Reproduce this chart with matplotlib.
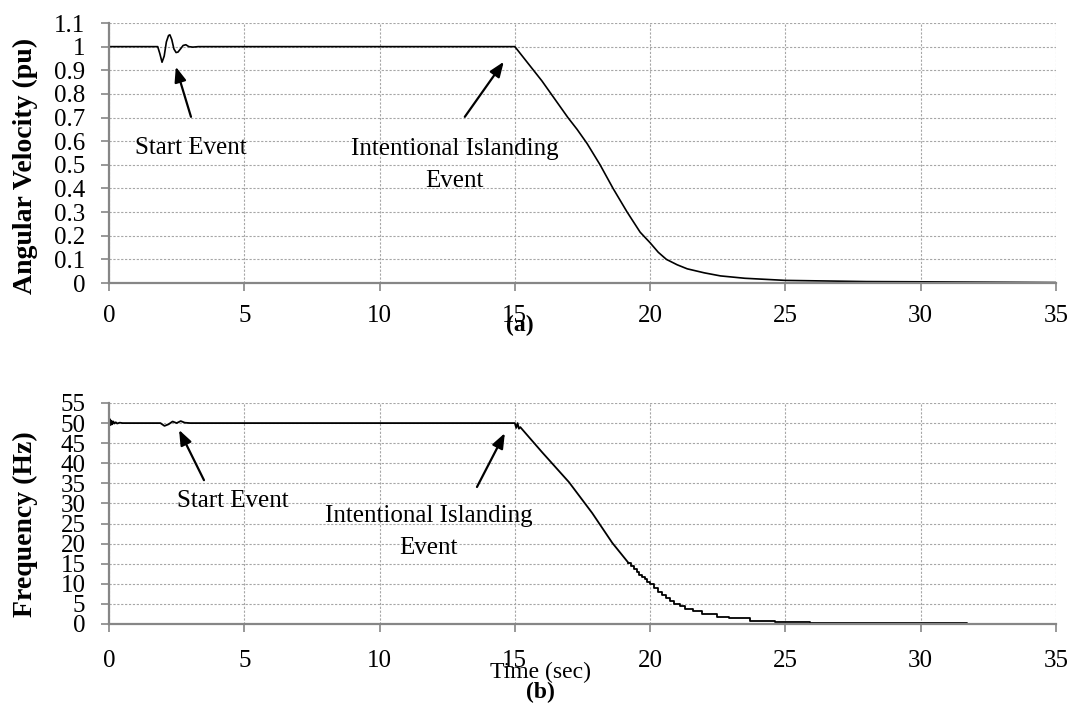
import matplotlib
matplotlib.use("Agg")
import matplotlib.pyplot as plt
import numpy as np

# angular velocity (pu)
t_speed = [0, 1.8, 1.88, 1.96, 2.04, 2.12, 2.2, 2.25, 2.32, 2.4, 2.48, 2.55,
           2.64, 2.74, 2.84, 2.95, 3.1, 3.3, 15.0, 16.0, 16.96, 17.3, 17.67,
           18.15, 18.63, 19.15, 19.63, 20.0, 20.3, 20.6, 21.0, 21.37, 22.0,
           22.6, 23.5, 25.0, 28.0, 30.0, 35.0]
speed = [1.0, 1.0, 0.97, 0.934, 0.96, 1.02, 1.047, 1.05, 1.03, 0.99, 0.975,
         0.977, 0.99, 1.005, 1.008, 1.0, 0.998, 1.0, 1.0, 0.855, 0.70, 0.65,
         0.59, 0.50, 0.40, 0.30, 0.215, 0.17, 0.13, 0.10, 0.077, 0.06, 0.043,
         0.03, 0.02, 0.011, 0.006, 0.005, 0.002]

# frequency (Hz), smooth part
t_freq = [0, 0.03, 0.06, 0.09, 0.12, 0.16, 0.2, 0.25, 0.3, 0.4, 0.5, 1.9,
          2.05, 2.2, 2.35, 2.5, 2.65, 2.8, 3.0, 15.0, 15.05, 15.1, 15.15,
          15.2, 16.0, 17.0, 17.86, 18.6, 19.2]
freq = [50.0, 51.0, 49.5, 50.6, 49.7, 50.4, 49.9, 50.2, 49.9, 50.1, 50.0,
        50.0, 49.3, 49.7, 50.4, 50.0, 50.5, 50.1, 50.0, 50.0, 48.8, 50.0,
        48.6, 49.0, 42.8, 35.3, 27.6, 20.2, 15.2]

# stepped tail of the frequency trace
t_tail = [19.2, 19.3, 19.4, 19.5, 19.6, 19.7, 19.8, 19.9, 20.0, 20.15, 20.3,
          20.45, 20.6, 20.75, 20.9, 21.1, 21.3, 21.6, 21.9, 22.46, 22.9, 23.7,
          24.6, 25.9, 28.0, 31.7, 35.0]
f_tail = [15.2, 14.4, 13.7, 13.0, 12.3, 11.7, 11.1, 10.5, 10.0, 9.0, 8.0,
          7.2, 6.4, 5.7, 5.0, 4.4, 3.8, 3.2, 2.5, 1.8, 1.4, 0.8, 0.6, 0.3,
          0.15, 0.05, 0.05]

speed_ticks = [0, 0.1, 0.2, 0.3, 0.4, 0.5, 0.6, 0.7, 0.8, 0.9, 1, 1.1]
speed_labels = ["0", "0.1", "0.2", "0.3", "0.4", "0.5", "0.6", "0.7", "0.8",
                "0.9", "1", "1.1"]
freq_ticks = list(range(0, 56, 5))
time_ticks = list(range(0, 36, 5))

plt.rcParams['font.family'] = ['Liberation Serif', 'DejaVu Serif']

W, H = 1071, 713
fig = plt.figure(figsize=(W / 100, H / 100), dpi=100)
ax1 = fig.add_axes([109 / W, 1 - 283 / H, 947 / W, 260 / H])
ax2 = fig.add_axes([109 / W, 1 - 624 / H, 947 / W, 221 / H])

axis_grey = "#868686"
grid_grey = "#a6a6a6"


def style_axes(ax):
    for s in ["top", "right"]:
        ax.spines[s].set_visible(False)
    for s in ["left", "bottom"]:
        ax.spines[s].set_color(axis_grey)
        ax.spines[s].set_linewidth(1.6)
    ax.grid(True, color=grid_grey, linestyle=(0, (2, 1.5)), linewidth=0.8)
    ax.set_axisbelow(True)
    ax.tick_params(axis="both", colors=axis_grey, labelcolor="black",
                   labelsize=18, length=6, width=1.2, direction="out")
    ax.tick_params(axis="y", pad=11)
    ax.set_xlim(0, 35)
    ax.set_xticks(time_ticks)


style_axes(ax1)
ax1.plot(t_speed, speed, color="black", lw=1.2)
ax1.set_ylim(0, 1.1)
ax1.set_yticks(speed_ticks)
ax1.set_yticklabels(speed_labels)
ax1.tick_params(axis="x", pad=10)
ax1.set_ylabel("Angular Velocity (pu)", fontsize=20, fontweight="bold")
ax1.yaxis.set_label_coords(-0.075, 0.45)

style_axes(ax2)
ax2.plot(t_freq, freq, color="black", lw=1.3)
ax2.plot(t_tail, f_tail, color="black", lw=1.3, drawstyle="steps-post")
ax2.set_ylim(0, 55)
ax2.set_yticks(freq_ticks)
ax2.tick_params(axis="x", pad=13)
ax2.set_ylabel("Frequency (Hz)", fontsize=20, fontweight="bold")
ax2.yaxis.set_label_coords(-0.075, 0.45)

arrow = dict(arrowstyle="-|>,head_length=0.9,head_width=0.35", color="black",
             lw=1.6, shrinkA=0, shrinkB=0)

ax1.annotate("", xy=(2.47, 0.915), xytext=(3.03, 0.703), arrowprops=arrow)
ax1.annotate("", xy=(14.59, 0.936), xytext=(13.15, 0.703), arrowprops=arrow)
ax1.text(3.03, 0.57, "Start Event", fontsize=18, ha="center", va="center")
ax1.text(12.78, 0.50, "Intentional Islanding\nEvent", fontsize=18,
         ha="center", va="center", linespacing=1.6)

ax2.annotate("", xy=(2.59, 48.3), xytext=(3.51, 35.8), arrowprops=arrow)
ax2.annotate("", xy=(14.63, 47.5), xytext=(13.6, 34.1), arrowprops=arrow)
ax2.text(4.58, 30.6, "Start Event", fontsize=18, ha="center", va="center")
ax2.text(11.82, 22.9, "Intentional Islanding\nEvent", fontsize=18,
         ha="center", va="center", linespacing=1.6)

fig.text(520 / W, 1 - 325 / H, "(a)", fontsize=17, fontweight="bold",
         ha="center", va="center")
fig.text(540 / W, 1 - 672 / H, "Time (sec)", fontsize=17,
         ha="center", va="center")
fig.text(540 / W, 1 - 692 / H, "(b)", fontsize=17, fontweight="bold",
         ha="center", va="center")

fig.savefig("out.png", dpi=100, facecolor="white")
